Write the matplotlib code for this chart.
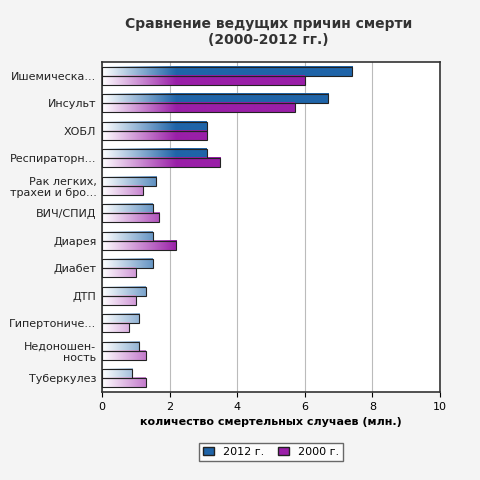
import matplotlib
matplotlib.use("Agg")
import matplotlib.pyplot as plt
import numpy as np
from matplotlib.colors import LinearSegmentedColormap
from matplotlib.patches import Rectangle

categories = ["Ишемическа...", "Инсульт", "ХОБЛ", "Респираторн...", "Рак легких,\nтрахеи и бро...",
              "ВИЧ/СПИД", "Диарея", "Диабет", "ДТП", "Гипертониче...", "Недоношен-\nность", "Туберкулез"]
vals_2012 = [7.4, 6.7, 3.1, 3.1, 1.6, 1.5, 1.5, 1.5, 1.3, 1.1, 1.1, 0.9]
vals_2000 = [6.0, 5.7, 3.1, 3.5, 1.2, 1.7, 2.2, 1.0, 1.0, 0.8, 1.3, 1.3]
series = [("2012 г.", vals_2012, "#1f64a8"), ("2000 г.", vals_2000, "#9a1fa8")]

fig = plt.figure(figsize=(4.8, 4.8), dpi=100, facecolor="#f4f4f4")
ax = fig.add_axes([102 / 480, 1 - 392 / 480, 338 / 480, 330 / 480])
ax.set_facecolor("white")

n = len(categories)
h = 0.33
ramp = 2.2  # gradient reaches full colour at this x
for k, (name, vals, col) in enumerate(series):
    cmap = LinearSegmentedColormap.from_list(name, ["white", col])
    for i, v in enumerate(vals):
        y0 = i - h + k * h
        xs = np.linspace(0, v, 256)
        grad = np.clip(xs / ramp, 0, 1).reshape(1, -1)
        ax.imshow(grad, cmap=cmap, vmin=0, vmax=1, aspect="auto",
                  extent=(0, v, y0 + h, y0), zorder=2)
        ax.add_patch(Rectangle((0, y0), v, h, fill=False, ec="#222222", lw=0.8, zorder=3))

ax.set_xlim(0, 10)
ax.set_ylim(n - 0.5, -0.5)
ax.set_xticks([0, 2, 4, 6, 8, 10])
ax.set_yticks(range(n))
ax.set_yticklabels(categories, fontsize=8, color="#222222")
ax.tick_params(axis="x", labelsize=8)
ax.tick_params(axis="y", length=0, pad=4)
ax.grid(axis="x", color="#bbbbbb", lw=0.8, zorder=0)
for s in ax.spines.values():
    s.set_color("#333333")
    s.set_linewidth(1.2)
ax.set_xlabel("количество смертельных случаев (млн.)", fontsize=8, fontweight="bold")
fig.suptitle("Сравнение ведущих причин смерти\n(2000-2012 гг.)", x=0.56, y=0.965, fontsize=10,
             fontweight="bold", color="#333333")

handles = [Rectangle((0, 0), 1, 1, fc=c, ec="#222222") for _, _, c in series]
fig.legend(handles, [s[0] for s in series], loc="center", bbox_to_anchor=(0.565, 1 - 452 / 480),
           ncol=2, fontsize=8, frameon=True, edgecolor="#444444", fancybox=False,
           handlelength=1.0, handleheight=0.7, columnspacing=1.2)
fig.savefig("out.png", dpi=100, facecolor=fig.get_facecolor())
